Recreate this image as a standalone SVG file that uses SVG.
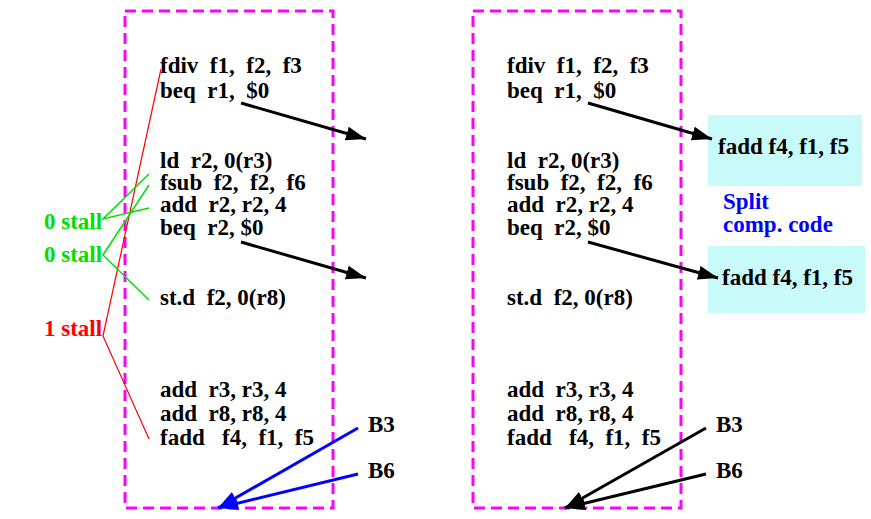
<svg xmlns="http://www.w3.org/2000/svg" width="871" height="519" viewBox="0 0 871 519" xml:space="preserve">
<style>
.t{font-family:"Liberation Serif","Times New Roman",serif;font-weight:bold;font-size:23px;fill:#000;white-space:pre}
.box{fill:none;stroke:#ff00ff;stroke-width:3;stroke-dasharray:11 6}
.cy{fill:#c8fafa;stroke:none}
.blk{stroke:#000;stroke-width:3;fill:none}
.blu{stroke:#0000ff;stroke-width:3;fill:none}
.grn{stroke:#00e000;stroke-width:1.5;fill:none}
.red{stroke:#ff0000;stroke-width:1.2;fill:none}
</style>
<defs>
<marker id="ah" markerUnits="userSpaceOnUse" markerWidth="22" markerHeight="16" refX="20" refY="7" orient="auto">
<path d="M0,0 L20,7 L0,14 Z" fill="#000"/>
</marker>
<marker id="ahb" markerUnits="userSpaceOnUse" markerWidth="22" markerHeight="16" refX="20" refY="7" orient="auto">
<path d="M0,0 L20,7 L0,14 Z" fill="#0000ff"/>
</marker>
</defs>

<g id="left-block">
<rect class="box" x="125" y="11" width="208" height="497"/>
<text class="t" x="160" y="73">fdiv  f1,  f2,  f3</text>
<text class="t" x="160" y="98">beq  r1,  $0</text>
<text class="t" x="160" y="168">ld  r2, 0(r3)</text>
<text class="t" x="160" y="190">fsub  f2,  f2,  f6</text>
<text class="t" x="160" y="212">add  r2, r2, 4</text>
<text class="t" x="160" y="235">beq  r2, $0</text>
<text class="t" x="160" y="305">st.d  f2, 0(r8)</text>
<text class="t" x="160" y="397">add  r3, r3, 4</text>
<text class="t" x="160" y="421">add  r8, r8, 4</text>
<text class="t" x="160" y="445">fadd   f4,  f1,  f5</text>
</g>

<g id="right-block">
<rect class="box" x="473" y="11" width="208" height="497"/>
<text class="t" x="507" y="73">fdiv  f1,  f2,  f3</text>
<text class="t" x="507" y="98">beq  r1,  $0</text>
<text class="t" x="507" y="168">ld  r2, 0(r3)</text>
<text class="t" x="507" y="190">fsub  f2,  f2,  f6</text>
<text class="t" x="507" y="212">add  r2, r2, 4</text>
<text class="t" x="507" y="235">beq  r2, $0</text>
<text class="t" x="507" y="305">st.d  f2, 0(r8)</text>
<text class="t" x="507" y="397">add  r3, r3, 4</text>
<text class="t" x="507" y="421">add  r8, r8, 4</text>
<text class="t" x="507" y="445">fadd   f4,  f1,  f5</text>
</g>

<g id="comp1">
<rect class="cy" x="708" y="115" width="154" height="71"/>
<text class="t" x="718" y="154">fadd f4, f1, f5</text>
</g>
<g id="comp2">
<rect class="cy" x="708" y="246" width="157" height="67"/>
<text class="t" x="722" y="285">fadd f4, f1, f5</text>
</g>
<g id="split-label">
<text class="t" x="723" y="209" style="fill:#0000ff">Split</text>
<text class="t" x="723" y="232" style="fill:#0000ff">comp. code</text>
</g>

<g id="stall-labels">
<text class="t" x="44" y="229" style="fill:#00e000">0 stall</text>
<text class="t" x="44" y="262" style="fill:#00e000">0 stall</text>
<text class="t" x="44" y="336" style="fill:#ff0000">1 stall</text>
</g>

<g id="branch-labels">
<text class="t" x="368" y="432">B3</text>
<text class="t" x="368" y="478">B6</text>
<text class="t" x="716" y="432">B3</text>
<text class="t" x="716" y="478">B6</text>
</g>

<g id="connectors">
<polyline class="red" points="161,69 103,336 149,439"/>
<polyline class="grn" points="149,174 103,219 149,208"/>
<polyline class="grn" points="149,185 103,255 149,300"/>
<line class="blk" x1="241" y1="103" x2="366" y2="139" marker-end="url(#ah)"/>
<line class="blk" x1="241" y1="242" x2="366" y2="278" marker-end="url(#ah)"/>
<line class="blk" x1="588" y1="103" x2="712" y2="139" marker-end="url(#ah)"/>
<line class="blk" x1="588" y1="242" x2="718" y2="278" marker-end="url(#ah)"/>
<line class="blu" x1="358" y1="428" x2="218" y2="508" marker-end="url(#ahb)"/>
<line class="blu" x1="358" y1="474" x2="218" y2="508" marker-end="url(#ahb)"/>
<line class="blk" x1="706" y1="428" x2="565" y2="508" marker-end="url(#ah)"/>
<line class="blk" x1="706" y1="474" x2="565" y2="508" marker-end="url(#ah)"/>
</g>
</svg>
